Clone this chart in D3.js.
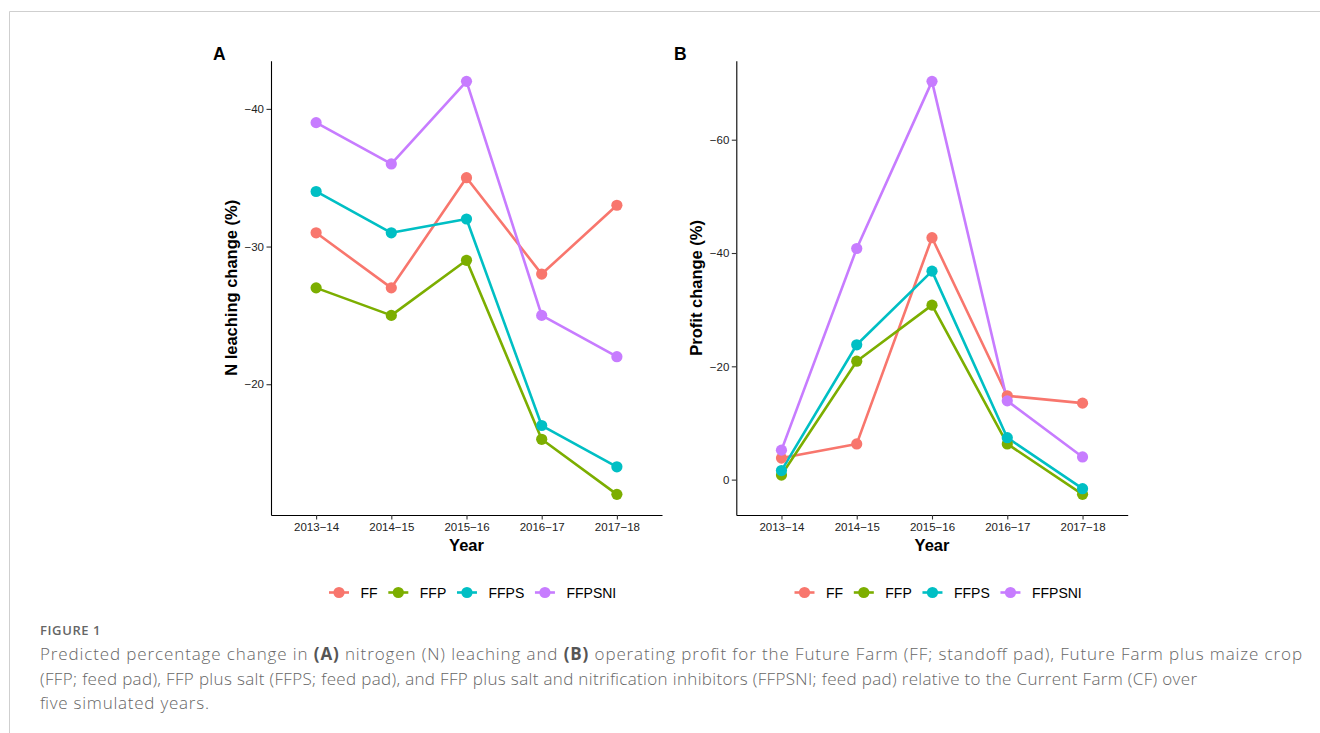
<!DOCTYPE html>
<html>
<head>
<meta charset="utf-8">
<script src="https://cdn.jsdelivr.net/npm/d3@7"></script>
<style>
  body { margin: 0; background: #fff; }
  svg { display: block; }
</style>
</head>
<body>
<div id="chart"></div>
<script>
// data
const years = ["2013\u221214", "2014\u221215", "2015\u221216", "2016\u221217", "2017\u221218"];
const scenarios = ["FF", "FFP", "FFPS", "FFPSNI"];
const colors = ["#F8766D", "#7CAE00", "#00BFC4", "#C77CFF"];

const leachFF     = [-31, -27, -35, -28, -33];
const leachFFP    = [-27, -25, -29, -16, -12];
const leachFFPS   = [-34, -31, -32, -17, -14];
const leachFFPSNI = [-39, -36, -42, -25, -22];

const profitFF     = [-3.8, -6.3, -42.7, -14.8, -13.5];
const profitFFP    = [-0.8, -20.9, -30.8, -6.3, 2.6];
const profitFFPS   = [-1.6, -23.8, -36.8, -7.4, 1.6];
const profitFFPSNI = [-5.2, -40.8, -70.3, -13.9, -4.0];

const leachTicks = [-40, -30, -20];
const profitTicks = [-60, -40, -20, 0];

const captionLines = [
  [["Predicted percentage change in ", false], ["(A)", true], [" nitrogen (N) leaching and ", false], ["(B)", true],
   [" operating profit for the Future Farm (FF; standoff pad), Future Farm plus maize crop", false]],
  [["(FFP; feed pad), FFP plus salt (FFPS; feed pad), and FFP plus salt and nitrification inhibitors (FFPSNI; feed pad) relative to the Current Farm (CF) over", false]],
  [["five simulated years.", false]]
];
const captionWidths = [1262, 1157, 169];

const W = 1320, H = 733;
const svg = d3.select('#chart').append('svg').attr('width', W).attr('height', H);

// frame like the journal page
svg.append('path')
  .attr('d', `M9.5,${H} V11.5 H${W}`)
  .attr('fill', 'none').attr('stroke', '#cfcfcf').attr('stroke-width', 1);

const font = 'Liberation Sans, Arial, Helvetica, sans-serif';
const top_y = 60.7, bottom_y = 515;

function drawPanel(opt) {
  const g = svg.append('g');
  const x = d3.scalePoint().domain(years).range([opt.x0, opt.x1]).padding(0.6);
  const all = opt.series.flat();
  const lo = d3.min(all), hi = d3.max(all), pad = (hi - lo) * 0.05;
  // reversed: more negative upward
  const y = d3.scaleLinear().domain([lo - pad, hi + pad]).range([top_y, bottom_y]);

  const xa = g.append('g').attr('transform', `translate(0,${bottom_y})`)
    .call(d3.axisBottom(x).tickSize(4.5).tickSizeOuter(0));
  xa.select('.domain').attr('stroke', '#000').attr('stroke-width', 1.1);
  xa.selectAll('.tick line').attr('stroke', '#333').attr('stroke-width', 1.1);
  xa.selectAll('.tick text').attr('font-family', font).attr('font-size', 11.5)
    .attr('fill', '#222').attr('dy', '0.71em').attr('y', 8);

  const ya = g.append('g').attr('transform', `translate(${opt.x0},0)`)
    .call(d3.axisLeft(y).tickValues(opt.ticks).tickSize(4.5).tickSizeOuter(0));
  ya.select('.domain').attr('stroke', '#000').attr('stroke-width', 1.1);
  ya.selectAll('.tick line').attr('stroke', '#333').attr('stroke-width', 1.1);
  ya.selectAll('.tick text').attr('font-family', font).attr('font-size', 11.5)
    .attr('fill', '#222').attr('x', -7);

  const line = d3.line().x((d, i) => x(years[i])).y(d => y(d));
  opt.series.forEach((s, k) => {
    g.append('path').datum(s).attr('d', line)
      .attr('fill', 'none').attr('stroke', colors[k]).attr('stroke-width', 2.6)
      .attr('stroke-linejoin', 'round');
  });
  opt.series.forEach((s, k) => {
    g.selectAll(null).data(s).enter().append('circle')
      .attr('cx', (d, i) => x(years[i])).attr('cy', d => y(d))
      .attr('r', 5.6).attr('fill', colors[k]);
  });

  const cx = (opt.x0 + opt.x1) / 2;
  g.append('text').text('Year').attr('x', cx).attr('y', 551)
    .attr('text-anchor', 'middle').attr('font-family', font)
    .attr('font-weight', 'bold').attr('font-size', 16.5).attr('fill', '#000');
  g.append('text').text(opt.ytitle)
    .attr('transform', `translate(${opt.titleX},${(top_y + bottom_y) / 2}) rotate(-90)`)
    .attr('text-anchor', 'middle').attr('font-family', font)
    .attr('font-weight', 'bold').attr('font-size', 16.5).attr('fill', '#000');
  g.append('text').text(opt.tag).attr('x', opt.tagX).attr('y', 60)
    .attr('font-family', font).attr('font-weight', 'bold').attr('font-size', 17.5).attr('fill', '#000');

  // legend
  const lg = g.append('g');
  let lx = cx - 137.5;
  const ly = 592.5;
  scenarios.forEach((name, k) => {
    lg.append('line').attr('x1', lx).attr('x2', lx + 20).attr('y1', ly).attr('y2', ly)
      .attr('stroke', colors[k]).attr('stroke-width', 2.6);
    lg.append('circle').attr('cx', lx + 10).attr('cy', ly).attr('r', 5.6).attr('fill', colors[k]);
    const t = lg.append('text').text(name).attr('x', lx + 31.5).attr('y', ly + 5)
      .attr('font-family', font).attr('font-size', 14).attr('fill', '#000');
    lx += 31.5 + t.node().getComputedTextLength() + 10.7;
  });
}

drawPanel({
  x0: 271, x1: 662, series: [leachFF, leachFFP, leachFFPS, leachFFPSNI], ticks: leachTicks,
  ytitle: 'N leaching change (%)', titleX: 237, tag: 'A', tagX: 213
});
drawPanel({
  x0: 736.3, x1: 1127.7, series: [profitFF, profitFFP, profitFFPS, profitFFPSNI], ticks: profitTicks,
  ytitle: 'Profit change (%)', titleX: 702, tag: 'B', tagX: 674
});

// caption
const capFont = '"Open Sans", "Noto Sans", sans-serif';
svg.append('text').text('FIGURE 1').attr('x', 40).attr('y', 635)
  .attr('font-family', capFont).attr('font-size', 13).attr('font-weight', 600)
  .attr('letter-spacing', 0.6).attr('fill', '#666');
captionLines.forEach((parts, i) => {
  const t = svg.append('text').attr('x', 40).attr('y', 660 + i * 24.5)
    .attr('font-family', capFont).attr('font-size', 17).attr('font-weight', 300).attr('fill', '#666')
    .attr('textLength', captionWidths[i]).attr('lengthAdjust', 'spacing');
  parts.forEach(p => {
    t.append('tspan').text(p[0]).attr('font-weight', p[1] ? 700 : 300).attr('fill', p[1] ? '#555' : '#666');
  });
});
</script>
</body>
</html>
